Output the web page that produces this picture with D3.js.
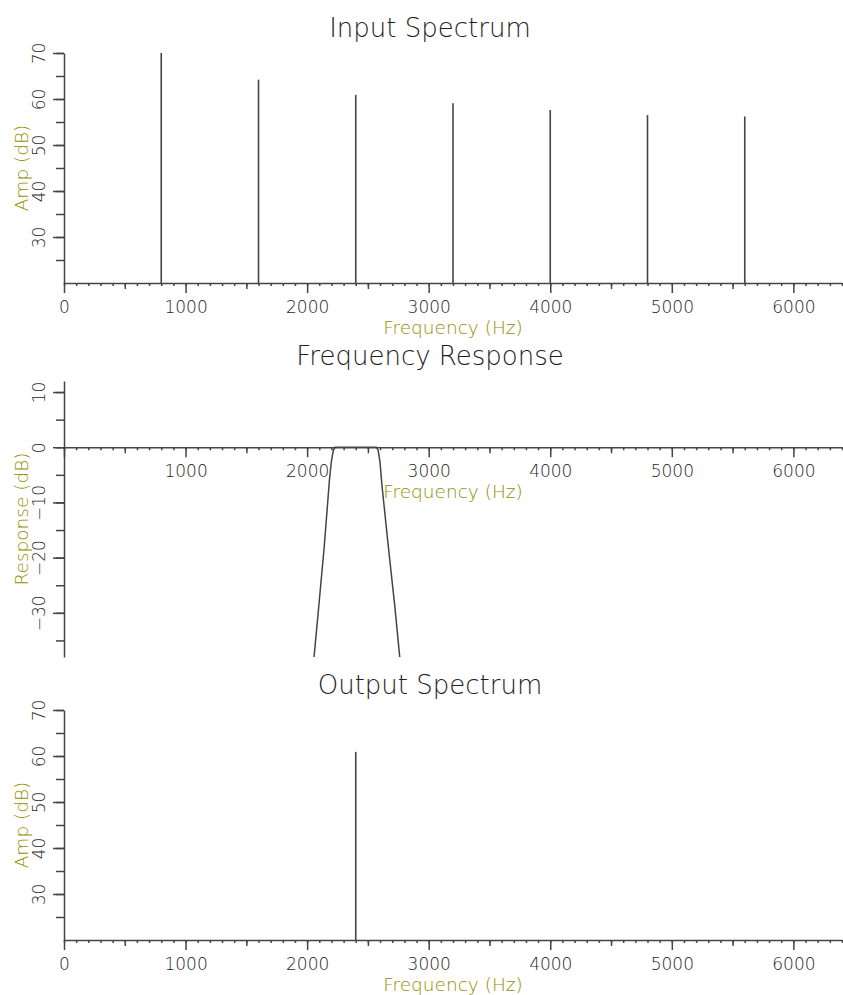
<!DOCTYPE html>
<html>
<head>
<meta charset="utf-8">
<script src="https://cdn.jsdelivr.net/npm/d3@7"></script>
<style>
  body { margin: 0; background: #fff; }
  text { font-family: "DejaVu Sans", "Liberation Sans", sans-serif; font-weight: 200; }
  .tick text { font-size: 17px; fill: #1e1e1e; }
  .title { font-size: 26px; fill: #1e1e1e; }
  .alabel { font-size: 18.5px; fill: #8f8f00; }
</style>
</head>
<body>
<svg id="chart" width="843" height="995"></svg>
<script>
// values
var harmonicFreqs = [800, 1600, 2400, 3200, 4000, 4800, 5600];
var inputAmps = [70, 64.2, 60.9, 59.1, 57.6, 56.5, 56.2];
var outputFreqs = [2400];
var outputAmps = [60.9];
var responseFreqs = [2040, 2100, 2140, 2184, 2200, 2215, 2230, 2400, 2570, 2585, 2600, 2615, 2669, 2720, 2775];
var responseDb = [-42, -27.8, -18.2, -5.8, -2.5, -0.6, 0, 0, 0, -0.6, -2.8, -6.8, -18.2, -28.5, -41];
var freqTicks = [0, 1000, 2000, 3000, 4000, 5000, 6000];
var ampTicks = [30, 40, 50, 60, 70];
var responseTicks = [-30, -20, -10, 0, 10];

var svg = d3.select("#chart");
var ink = "#444";
var x = d3.scaleLinear().domain([0, 6400]).range([64, 842]);

function panel(opt) {
    var y = d3.scaleLinear().domain(opt.yDomain).range([opt.bottom, opt.top]);
    var g = svg.append("g");
    var axisY = y(opt.xAxisAt);

    // x axis: 100 Hz, 500 Hz and 1000 Hz ticks
    var xg = g.append("g").attr("transform", "translate(0," + axisY + ")");
    xg.append("g")
        .call(d3.axisBottom(x).tickValues(d3.range(0, 6401, 100)).tickSize(3).tickSizeOuter(0).tickFormat(""))
        .call(function(s) { s.select(".domain").remove(); });
    xg.append("g")
        .call(d3.axisBottom(x).tickValues(d3.range(500, 6400, 1000)).tickSize(6).tickSizeOuter(0).tickFormat(""))
        .call(function(s) { s.select(".domain").remove(); });
    xg.append("g")
        .call(d3.axisBottom(x).tickValues(freqTicks).tickSize(10).tickSizeOuter(0).tickPadding(8)
            .tickFormat(function(d) { return (opt.hideZero && d === 0) ? "" : d; }));
    xg.selectAll("g").attr("color", ink).attr("font-size", null).attr("font-family", null);
    xg.selectAll("path, line").attr("stroke-width", 1.5);

    // y axis: minor every 5, labelled every 10
    var minor = d3.range(Math.ceil(opt.yDomain[0] / 5) * 5, opt.yDomain[1] + 0.01, 5)
        .filter(function(v) { return v > opt.yDomain[0]; });
    var yg = g.append("g").attr("transform", "translate(64,0)");
    yg.append("g")
        .call(d3.axisLeft(y).tickValues(minor).tickSize(8).tickSizeOuter(0).tickFormat(""))
        .call(function(s) { s.select(".domain").remove(); });
    yg.append("g")
        .call(d3.axisLeft(y).tickValues(opt.yTicks).tickSize(11).tickSizeOuter(0));
    yg.selectAll("g").attr("color", ink).attr("font-size", null).attr("font-family", null);
    yg.selectAll("path, line").attr("stroke-width", 1.5);
    yg.selectAll(".tick text")
        .attr("x", null).attr("dy", null)
        .attr("text-anchor", "middle")
        .attr("transform", "translate(-19,0) rotate(-90)");

    g.append("text").attr("class", "title")
        .attr("x", 430).attr("y", opt.top - 16)
        .attr("text-anchor", "middle").text(opt.title);
    g.append("text").attr("class", "alabel")
        .attr("x", 453).attr("y", axisY + 51)
        .attr("text-anchor", "middle").text("Frequency (Hz)");
    g.append("text").attr("class", "alabel")
        .attr("transform", "translate(28," + (opt.top + opt.bottom) / 2 + ") rotate(-90)")
        .attr("text-anchor", "middle").text(opt.ylabel);
    return { g: g, y: y };
}

function stems(p, freqs, amps, base) {
    p.g.selectAll("line.stem").data(d3.zip(freqs, amps)).enter().append("line")
        .attr("class", "stem")
        .attr("x1", function(d) { return x(d[0]); })
        .attr("x2", function(d) { return x(d[0]); })
        .attr("y1", p.y(base))
        .attr("y2", function(d) { return p.y(d[1]); })
        .attr("stroke", ink).attr("stroke-width", 1.6);
}

var p1 = panel({ top: 53, bottom: 283, yDomain: [20, 70], yTicks: ampTicks, xAxisAt: 20,
    title: "Input Spectrum", ylabel: "Amp (dB)" });
stems(p1, harmonicFreqs, inputAmps, 20);

var p2 = panel({ top: 381, bottom: 657, yDomain: [-38, 12], yTicks: responseTicks, xAxisAt: 0,
    title: "Frequency Response", ylabel: "Response (dB)", hideZero: true });
svg.append("clipPath").attr("id", "clipResp").append("rect")
    .attr("x", 64).attr("y", 381).attr("width", 778).attr("height", 276);
p2.g.append("path")
    .datum(d3.zip(responseFreqs, responseDb))
    .attr("clip-path", "url(#clipResp)")
    .attr("fill", "none").attr("stroke", ink).attr("stroke-width", 1.5)
    .attr("d", d3.line().x(function(d) { return x(d[0]); }).y(function(d) { return p2.y(d[1]); }));

var p3 = panel({ top: 710, bottom: 940, yDomain: [20, 70], yTicks: ampTicks, xAxisAt: 20,
    title: "Output Spectrum", ylabel: "Amp (dB)" });
stems(p3, outputFreqs, outputAmps, 20);
</script>
</body>
</html>
